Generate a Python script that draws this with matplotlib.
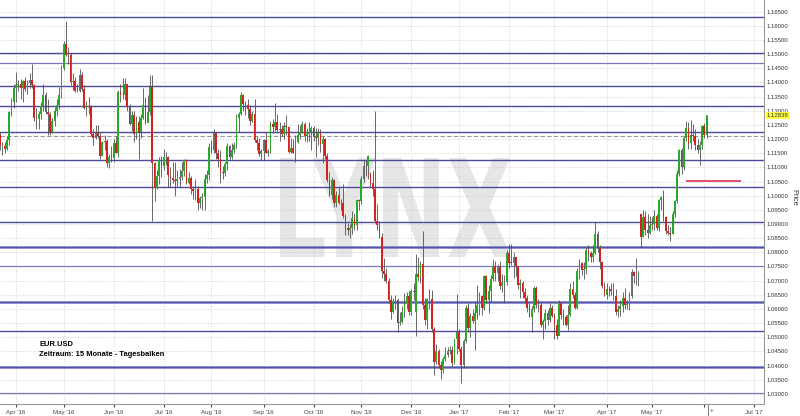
import numpy as np
import pandas as pd
import matplotlib
matplotlib.use("Agg")
import matplotlib.pyplot as plt
from matplotlib.textpath import TextPath
from matplotlib.patches import PathPatch
from matplotlib.font_manager import FontProperties
from matplotlib.transforms import Affine2D
from matplotlib.lines import Line2D

# EUR/USD daily candles 22 Mar 2016 - 2 Jun 2017, pips above 1.0000 (one line per month)
opens = [
    1240, 1215, 1180, 1176, 1165, 1196, 1294, 1332,
    1380, 1390, 1393, 1382, 1404, 1377, 1398, 1408, 1390, 1275, 1270, 1287, 1316, 1354, 1295, 1290, 1225, 1265, 1298, 1321, 1355,
    1452, 1536, 1497, 1496, 1403, 1404, 1369, 1371, 1427, 1376, 1310, 1316, 1315, 1217, 1205, 1223, 1212, 1141, 1190, 1194, 1115, 1138,
    1132, 1187, 1152, 1365, 1355, 1357, 1394, 1313, 1253, 1285, 1217, 1261, 1225, 1276, 1319, 1256, 1294, 1383, 1115, 1029, 1070, 1125,
    1105, 1135, 1136, 1072, 1062, 1056, 1051, 1058, 1065, 1089, 1126, 1045, 1064, 1023, 1017, 1025, 975, 992, 996, 1060, 1073,
    1173, 1162, 1222, 1150, 1130, 1085, 1080, 1112, 1177, 1136, 1160, 1180, 1276, 1290, 1355, 1325, 1320, 1305, 1265, 1288, 1197, 1185, 1148,
    1158, 1196, 1152, 1158, 1255, 1241, 1262, 1232, 1236, 1218, 1245, 1242, 1154, 1170, 1150, 1189, 1213, 1225, 1253, 1212, 1219, 1225,
    1240, 1207, 1205, 1222, 1184, 1201, 1141, 1057, 1004, 1057, 973, 1002, 973, 975, 927, 886, 879, 885, 920, 895, 985,
    980, 1058, 1104, 1105, 1080, 1046, 1025, 910, 896, 855, 735, 723, 697, 633, 589, 627, 631, 552, 553, 588, 616, 646,
    589, 665, 590, 723, 713, 758, 615, 560, 636, 634, 529, 411, 450, 401, 383, 424, 438, 452, 454, 409, 493,
    517, 460, 402, 487, 604, 532, 575, 557, 585, 613, 645, 605, 715, 630, 662, 705, 752, 728, 749, 680, 696, 694,
    798, 764, 763, 785, 750, 684, 693, 660, 640, 603, 573, 601, 675, 615, 615, 542, 557, 585, 560, 605,
    575, 545, 505, 620, 580, 570, 545, 580, 670, 650, 605, 735, 763, 737, 740, 810, 798, 785, 798, 865, 815, 765, 680,
    650, 670, 670, 663, 645, 590, 600, 610, 640, 615, 615, 645, 732, 715, 715, 935, 855, 925, 880, 870,
    895, 900, 930, 885, 985, 995, 925, 875, 870, 865, 935, 980, 1075, 1160, 1100, 1205, 1240, 1185, 1215, 1210, 1180, 1160, 1180,
    1245, 1215,
]
highs = [
    1250, 1225, 1190, 1190, 1210, 1300, 1345, 1393,
    1438, 1409, 1414, 1410, 1420, 1410, 1435, 1464, 1395, 1310, 1300, 1330, 1395, 1365, 1340, 1295, 1275, 1315, 1340, 1385, 1460,
    1545, 1616, 1526, 1505, 1434, 1420, 1395, 1446, 1436, 1390, 1334, 1347, 1321, 1235, 1250, 1249, 1225, 1195, 1215, 1200, 1148, 1175,
    1200, 1212, 1375, 1395, 1415, 1416, 1390, 1325, 1300, 1299, 1280, 1282, 1290, 1380, 1350, 1355, 1425, 1427, 1120, 1090, 1135, 1140,
    1165, 1155, 1140, 1100, 1120, 1120, 1090, 1095, 1120, 1130, 1130, 1085, 1070, 1035, 1060, 1035, 1000, 1010, 1075, 1090, 1185,
    1196, 1235, 1225, 1165, 1160, 1105, 1120, 1185, 1178, 1185, 1190, 1290, 1295, 1366, 1360, 1335, 1340, 1320, 1300, 1343, 1210, 1205, 1165,
    1200, 1225, 1165, 1265, 1270, 1327, 1290, 1260, 1250, 1260, 1285, 1245, 1205, 1200, 1215, 1255, 1250, 1265, 1260, 1240, 1260, 1245,
    1245, 1240, 1240, 1235, 1210, 1205, 1150, 1085, 1065, 1060, 1015, 1030, 990, 1040, 935, 905, 900, 945, 940, 985, 990,
    1070, 1125, 1125, 1145, 1085, 1090, 1300, 970, 910, 870, 780, 745, 710, 650, 640, 650, 640, 590, 612, 655, 660, 665,
    670, 690, 795, 785, 770, 874, 640, 640, 670, 668, 535, 475, 460, 415, 430, 465, 465, 470, 470, 495, 652,
    530, 470, 495, 615, 620, 585, 600, 629, 685, 660, 650, 720, 720, 685, 720, 775, 770, 760, 770, 725, 720, 810,
    830, 829, 800, 785, 750, 705, 700, 675, 650, 620, 610, 680, 680, 635, 625, 565, 600, 595, 620, 615,
    585, 565, 630, 625, 600, 580, 615, 690, 700, 660, 745, 775, 765, 765, 820, 825, 805, 825, 906, 875, 825, 770, 695,
    690, 680, 690, 690, 670, 615, 630, 660, 675, 630, 660, 740, 735, 780, 735, 937, 950, 945, 935, 930,
    925, 950, 935, 990, 1000, 1020, 930, 895, 890, 945, 985, 1090, 1165, 1170, 1210, 1265, 1260, 1268, 1255, 1235, 1200, 1195, 1250,
    1258, 1285,
]
lows = [
    1170, 1160, 1144, 1150, 1160, 1180, 1280, 1310,
    1330, 1370, 1340, 1330, 1370, 1360, 1380, 1380, 1265, 1235, 1235, 1270, 1300, 1290, 1215, 1215, 1220, 1245, 1280, 1305, 1345,
    1445, 1495, 1465, 1390, 1375, 1365, 1365, 1365, 1370, 1305, 1280, 1290, 1210, 1180, 1202, 1205, 1130, 1140, 1160, 1100, 1098, 1120,
    1120, 1150, 1135, 1330, 1340, 1339, 1300, 1250, 1230, 1190, 1200, 1130, 1205, 1270, 1255, 1260, 1285, 912, 980, 1025, 1040, 1065,
    1090, 1110, 1030, 1030, 1045, 1000, 1030, 1030, 1055, 1070, 1040, 1040, 1005, 990, 985, 950, 955, 950, 950, 1045, 1055,
    1150, 1150, 1130, 1100, 1045, 1060, 1070, 1090, 1130, 1130, 1150, 1170, 1225, 1285, 1300, 1285, 1275, 1250, 1260, 1190, 1160, 1140, 1125,
    1125, 1150, 1140, 1150, 1220, 1230, 1220, 1195, 1210, 1200, 1215, 1150, 1150, 1150, 1120, 1185, 1200, 1220, 1195, 1190, 1195, 1160,
    1195, 1135, 1180, 1155, 1115, 1130, 1050, 1000, 990, 960, 960, 970, 950, 920, 860, 860, 850, 865, 880, 880, 950,
    970, 1050, 1070, 1060, 1030, 1000, 905, 880, 850, 710, 700, 690, 620, 565, 585, 600, 520, 545, 550, 570, 600, 580,
    580, 630, 505, 700, 690, 600, 545, 530, 600, 520, 366, 405, 390, 352, 375, 415, 430, 440, 400, 405, 440,
    450, 340, 390, 480, 520, 500, 550, 455, 565, 580, 580, 595, 620, 585, 625, 700, 700, 700, 670, 660, 620, 685,
    745, 755, 710, 715, 670, 640, 640, 620, 590, 570, 520, 590, 605, 590, 535, 495, 530, 545, 555, 570,
    495, 495, 510, 565, 545, 540, 525, 575, 640, 600, 600, 705, 720, 705, 725, 770, 765, 765, 795, 800, 740, 675, 645,
    635, 645, 650, 630, 580, 570, 575, 590, 600, 600, 595, 640, 690, 685, 680, 820, 855, 860, 850, 865,
    880, 880, 880, 875, 950, 910, 865, 860, 840, 865, 925, 975, 1070, 1075, 1090, 1195, 1165, 1165, 1195, 1160, 1150, 1110, 1165,
    1205, 1205,
]
closes = [
    1215, 1180, 1176, 1165, 1196, 1294, 1332, 1380,
    1390, 1393, 1382, 1404, 1377, 1398, 1408, 1390, 1275, 1270, 1287, 1316, 1354, 1295, 1290, 1225, 1265, 1298, 1321, 1355, 1452,
    1536, 1497, 1496, 1403, 1404, 1369, 1371, 1427, 1376, 1310, 1316, 1315, 1217, 1205, 1223, 1212, 1141, 1190, 1194, 1115, 1138, 1132,
    1187, 1152, 1365, 1355, 1357, 1394, 1313, 1253, 1285, 1217, 1261, 1225, 1276, 1319, 1256, 1294, 1383, 1115, 1029, 1070, 1125, 1105,
    1135, 1136, 1072, 1062, 1056, 1051, 1058, 1065, 1089, 1126, 1045, 1064, 1023, 1017, 1025, 975, 992, 996, 1060, 1073, 1173,
    1162, 1222, 1150, 1130, 1085, 1080, 1112, 1177, 1136, 1160, 1180, 1276, 1290, 1355, 1325, 1320, 1305, 1265, 1288, 1197, 1185, 1148, 1158,
    1196, 1152, 1158, 1255, 1241, 1262, 1232, 1236, 1218, 1245, 1242, 1154, 1170, 1150, 1189, 1213, 1225, 1253, 1212, 1219, 1225, 1240,
    1207, 1205, 1222, 1184, 1201, 1141, 1057, 1004, 1057, 973, 1002, 973, 975, 927, 886, 879, 885, 920, 895, 985, 980,
    1058, 1104, 1105, 1140, 1046, 1025, 910, 896, 855, 735, 723, 697, 633, 589, 627, 631, 552, 553, 588, 616, 646, 589,
    665, 661, 723, 713, 758, 615, 560, 636, 634, 529, 411, 450, 401, 383, 424, 438, 452, 454, 409, 493, 517,
    460, 402, 487, 604, 532, 575, 557, 585, 613, 645, 605, 715, 630, 662, 705, 752, 728, 749, 680, 696, 694, 798,
    764, 763, 785, 750, 684, 693, 660, 640, 603, 573, 601, 675, 615, 615, 542, 557, 585, 560, 605, 575,
    545, 505, 620, 580, 570, 545, 580, 670, 650, 605, 735, 763, 737, 740, 810, 798, 785, 798, 865, 815, 765, 680, 650,
    670, 670, 663, 645, 590, 600, 610, 640, 615, 615, 645, 732, 715, 715, 725, 855, 925, 880, 870, 895,
    900, 930, 885, 985, 995, 925, 875, 870, 865, 935, 980, 1075, 1160, 1100, 1205, 1240, 1185, 1215, 1210, 1180, 1160, 1180, 1245,
    1215, 1284,
]

# horizontal support / resistance lines drawn on the chart
levels = [1.1631, 1.1503, 1.1468, 1.1389, 1.1318, 1.1224, 1.1125, 1.1030,
          1.0908, 1.0819, 1.0753, 1.0625, 1.0521, 1.0394, 1.0304]
strong_levels = [1.0819, 1.0625, 1.0394]
weak_levels = [1.1468, 1.0753, 1.0304]
prev_close = 1.1212
target_level = 1.1052
last_price = 1.12838

# trading days (no candle on 26 Dec 2016), extended to the right for the axis
days = pd.bdate_range("2016-03-22", "2017-07-14")
days = days[days != pd.Timestamp("2016-12-26")]

o = 1 + np.array(opens) / 10000
h = 1 + np.array(highs) / 10000
l = 1 + np.array(lows) / 10000
c = 1 + np.array(closes) / 10000
x = np.arange(len(c))
up = c >= o

plt.rcParams['font.family'] = ['Liberation Sans', 'DejaVu Sans']
fig = plt.figure(figsize=(8, 4.16), dpi=100)
ax = fig.add_axes([0, 12 / 416, 764 / 800, 404 / 416])

px = 2.2717  # pixels per trading day
apr1 = 8
ax.set_xlim(apr1 - 16 / px, apr1 + (764 - 16) / px)
ax.set_ylim(1.02643, 1.16913)

# watermark
tp = TextPath((0, 0), "LYNX", size=1, prop=FontProperties(family='DejaVu Sans', weight='bold'))
bb = tp.get_extents()
x0, x1 = 280 / 800, 511 / 800
y0, y1 = (416 - 257) / 416, (416 - 158) / 416
tr = Affine2D().translate(-bb.x0, -bb.y0).scale((x1 - x0) / bb.width, (y1 - y0) / bb.height).translate(x0, y0)
ax.add_patch(PathPatch(tr.transform_path(tp), transform=fig.transFigure,
                       facecolor='#e6e6e6', edgecolor='none', zorder=0.2))

# grid
month_idx = [i for i in range(1, len(days)) if days[i].month != days[i - 1].month]
month_lab = [days[i].strftime("%b '%y") for i in month_idx]
month_lab = ["" if lab == "Jun '17" else lab for lab in month_lab]
ax.set_xticks(month_idx)
ax.set_xticklabels(month_lab)
ax.set_yticks(np.arange(1.030, 1.1651, 0.005))
ax.yaxis.set_major_formatter(matplotlib.ticker.FormatStrFormatter('%.5f'))
ax.yaxis.tick_right()
ax.grid(True, linestyle=(0, (1, 2)), color='#c4c4c4', linewidth=0.6)
ax.set_axisbelow(True)

for lv in levels:
    if lv in strong_levels:
        ax.axhline(lv, color='#7070c0', lw=1.8, zorder=1)
        ax.axhline(lv, color='#5050a0', lw=0.6, zorder=1)
    elif lv in weak_levels:
        ax.axhline(lv, color='#7a7ab8', lw=0.9, zorder=1)
    else:
        ax.axhline(lv, color='#4a4a9a', lw=1.0, zorder=1)
ax.axhline(prev_close, color='#999999', lw=0.8, ls=(0, (4, 2)), zorder=1)
ax.hlines(target_level, apr1 + (686 - 16) / px, apr1 + (741 - 16) / px,
          color='#e04060', lw=1.3, zorder=2)

# candles
ax.vlines(x, l, h, color='#505050', lw=0.6, zorder=3)
ax.bar(x, np.maximum(np.abs(c - o), 0.00012), bottom=np.minimum(o, c), width=0.75,
       color=np.where(up, '#2aa82a', '#d42222'), linewidth=0, zorder=4)

for s in ['top', 'left']:
    ax.spines[s].set_visible(False)
ax.spines['right'].set_color('#999999')
ax.spines['bottom'].set_color('#999999')
ax.tick_params(axis='x', labelsize=4.4, colors='#444444', length=2, pad=2)
ax.tick_params(axis='y', labelsize=4.3, colors='#333333', length=0, pad=2)

ax.text(1.0 + 2.5 / 764, last_price, "1.12838", transform=ax.get_yaxis_transform(),
        fontsize=4.3, color='#333333', va='center', ha='left',
        bbox=dict(boxstyle='square,pad=0.15', fc='#ffff40', ec='none'))
fig.text(794 / 800, (416 - 197) / 416, "Price", rotation=-90, fontsize=5.3,
         color='#333333', ha='center', va='center')

ax.text(39 / 764, (404 - 344) / 404, "EUR.USD", transform=ax.transAxes,
        fontsize=5.4, fontweight='bold', va='center')
ax.text(39 / 764, (404 - 354) / 404, "Zeitraum: 15 Monate - Tagesbalken",
        transform=ax.transAxes, fontsize=5.4, fontweight='bold', va='center')

fig.add_artist(Line2D([708 / 800] * 2, [1 / 416, 11 / 416], color='#666666', lw=0.6))
fig.text(712 / 800, 5 / 416, "+", fontsize=4.5, color='#444444', ha='center', va='center')

fig.savefig("out.png", dpi=100)
